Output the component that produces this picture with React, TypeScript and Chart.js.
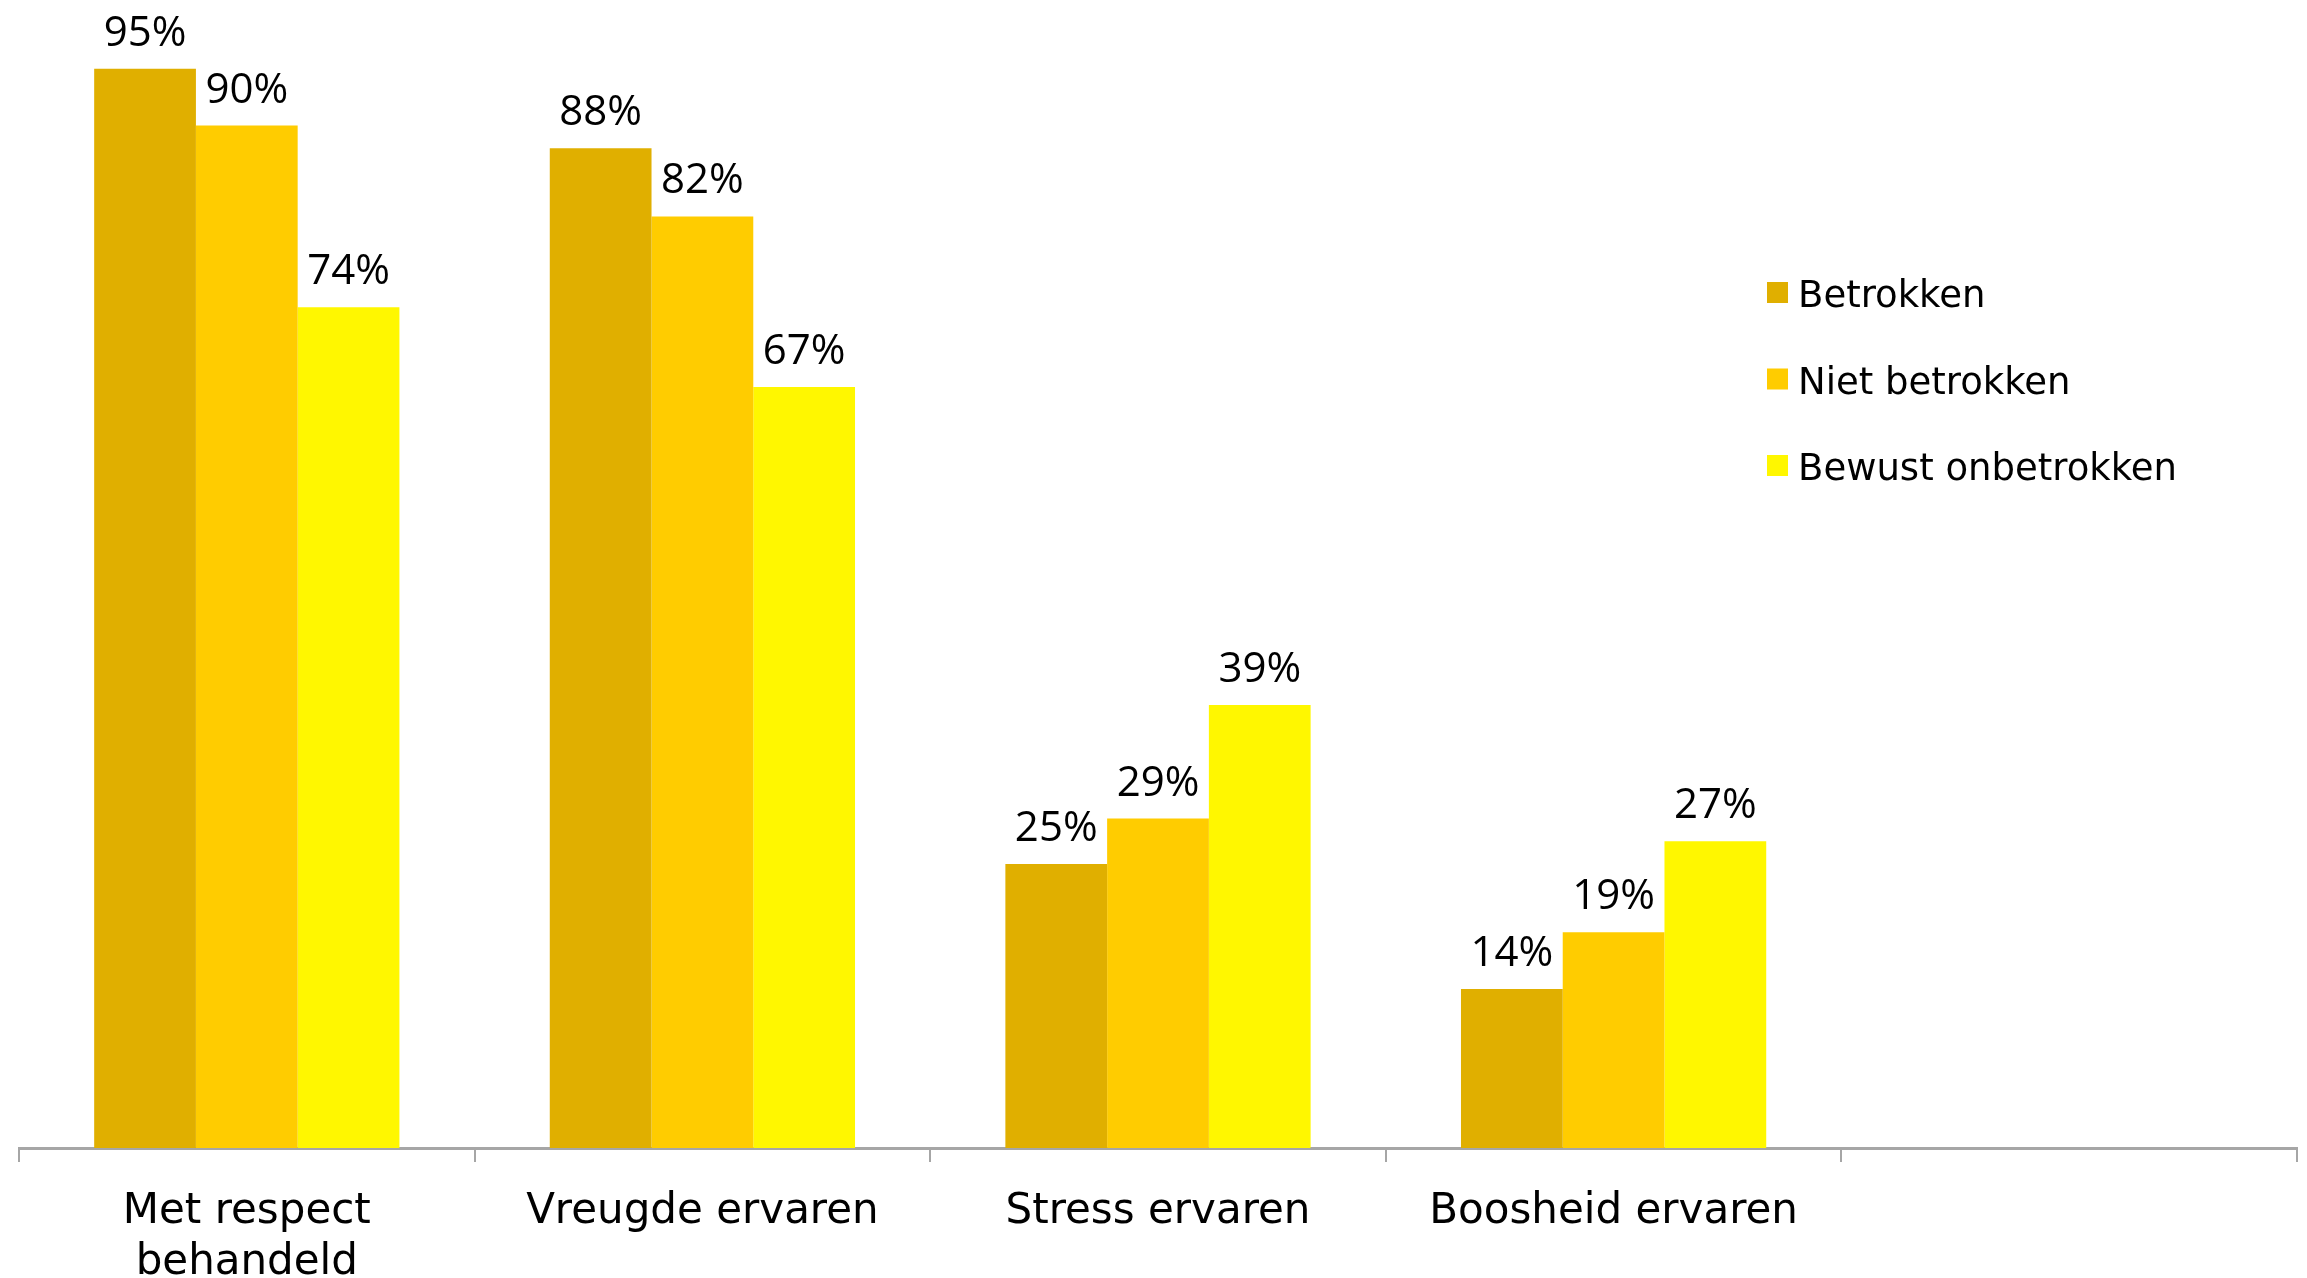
import React, { useEffect, useRef } from "react";
import { Chart, registerables } from "chart.js";

Chart.register(...registerables);

const categories: (string | string[])[] = [
  ["Met respect", "behandeld"],
  "Vreugde ervaren",
  "Stress ervaren",
  "Boosheid ervaren",
  "",
];
const seriesNames = ["Betrokken", "Niet betrokken", "Bewust onbetrokken"];
const betrokken = [95, 88, 25, 14, null];
const nietBetrokken = [90, 82, 29, 19, null];
const bewustOnbetrokken = [74, 67, 39, 27, null];
const colors = ["#E0AF00", "#FFCC00", "#FFF700"];

const W = 2307;
const H = 1278;

const dataLabelPlugin = {
  id: "dataLabels",
  afterDatasetsDraw(chart: any) {
    const ctx = chart.ctx;
    ctx.save();
    ctx.font = '42px "Open Sans"';
    ctx.fillStyle = "#000";
    ctx.textAlign = "center";
    ctx.textBaseline = "alphabetic";
    chart.data.datasets.forEach((ds: any, di: number) => {
      const meta = chart.getDatasetMeta(di);
      meta.data.forEach((el: any, i: number) => {
        const v = ds.data[i];
        if (v === null || v === undefined) return;
        ctx.fillText(v + "%", el.x, el.y - 23);
      });
    });
    ctx.restore();
  },
};

const legendPlugin = {
  id: "customLegend",
  afterDraw(chart: any) {
    const ctx = chart.ctx;
    ctx.save();
    ctx.font = '37px "DejaVu Sans"';
    ctx.textAlign = "left";
    ctx.textBaseline = "alphabetic";
    const x0 = 1767;
    const y0 = 282;
    const step = 86.5;
    chart.data.datasets.forEach((ds: any, i: number) => {
      const top = y0 + i * step;
      ctx.fillStyle = ds.backgroundColor;
      ctx.fillRect(x0, top, 21, 21);
      ctx.fillStyle = "#000";
      ctx.fillText(ds.label, x0 + 31, top + 25);
    });
    ctx.restore();
  },
};

export default function App() {
  const ref = useRef<HTMLCanvasElement | null>(null);
  useEffect(() => {
    if (!ref.current) return;
    const chart = new Chart(ref.current, {
      type: "bar",
      data: {
        labels: categories,
        datasets: [
          { label: seriesNames[0], data: betrokken, backgroundColor: colors[0] },
          { label: seriesNames[1], data: nietBetrokken, backgroundColor: colors[1] },
          { label: seriesNames[2], data: bewustOnbetrokken, backgroundColor: colors[2] },
        ],
      },
      options: {
        responsive: false,
        animation: false,
        devicePixelRatio: 1,
        layout: { padding: { left: 19, right: 10, top: 12, bottom: 0 } },
        datasets: {
          bar: { categoryPercentage: 0.67, barPercentage: 1, borderWidth: 0 },
        },
        plugins: {
          legend: { display: false },
          tooltip: { enabled: false },
        },
        scales: {
          x: {
            grid: {
              drawOnChartArea: false,
              drawTicks: true,
              tickLength: 14,
              color: "#A6A6A6",
              lineWidth: 2,
            },
            border: { display: true, color: "#A6A6A6", width: 3 },
            ticks: {
              font: { family: "DejaVu Sans", size: 42, lineHeight: 1.2 },
              color: "#000",
              padding: 25,
              maxRotation: 0,
              autoSkip: false,
            },
            afterFit: (scale: any) => {
              scale.height = 130;
            },
          },
          y: {
            display: false,
            min: 0,
            max: 100,
          },
        },
      },
      plugins: [dataLabelPlugin, legendPlugin],
    });
    return () => chart.destroy();
  }, []);
  return (
    <div style={{ position: "fixed", left: 0, top: 0, width: W, height: H, background: "#fff" }}>
      <canvas ref={ref} width={W} height={H} />
    </div>
  );
}
